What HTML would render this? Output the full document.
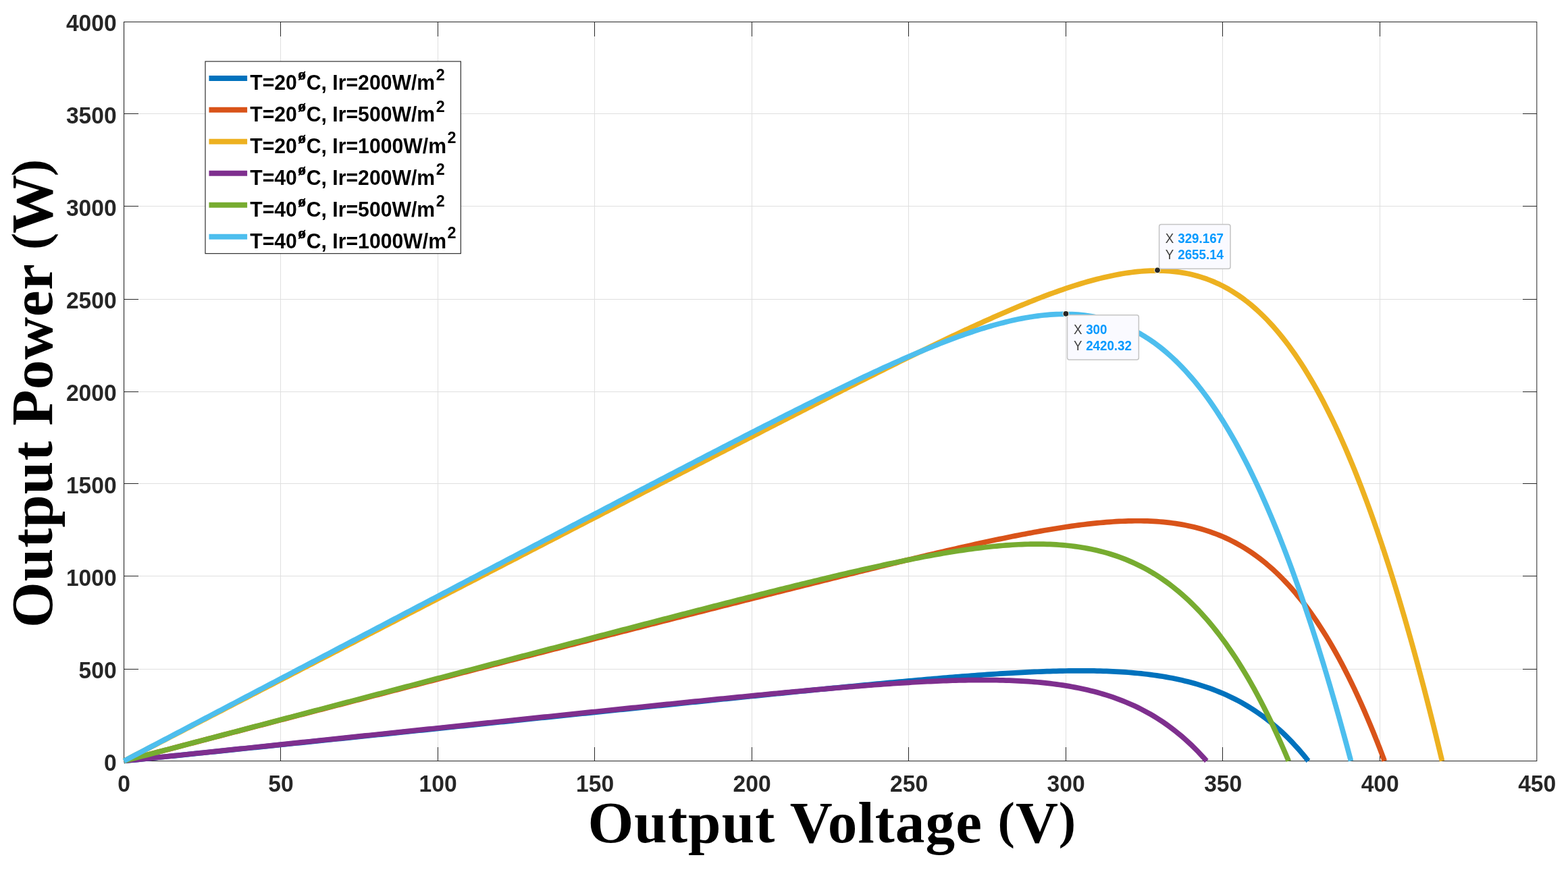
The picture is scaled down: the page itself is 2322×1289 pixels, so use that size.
<!DOCTYPE html>
<html lang="en"><head><meta charset="utf-8"><title>Output Power vs Output Voltage</title>
<style>html,body{margin:0;padding:0;background:#fff;}body{width:2322px;height:1289px;overflow:hidden;}svg{display:block;}text{white-space:pre;}.tk{font-family:"Liberation Sans",sans-serif;font-weight:bold;font-size:33.6px;fill:#262626;}.lg{font-family:"Liberation Sans",sans-serif;font-weight:bold;font-size:30.2px;fill:#000;}.so{font-family:"Liberation Serif",serif;font-weight:bold;font-style:normal;font-size:23.4px;stroke:#000;stroke-width:0.7px;stroke-linejoin:round;}.s2{font-size:23.4px;}.ax{font-family:"Liberation Serif",serif;font-weight:bold;font-size:87.2px;fill:#000;}.pr{font-size:76.0px;}.dt{font-family:"Liberation Sans",sans-serif;font-size:18.75px;fill:#404040;}.dv{font-weight:bold;fill:#0099FF;}</style></head><body>
<svg width="2322" height="1289" viewBox="0 0 2322 1289">
<rect x="0" y="0" width="2322" height="1289" fill="#ffffff"/>
<g stroke="#dfdfdf" stroke-width="1" shape-rendering="crispEdges">
<line x1="415.5" y1="32.5" x2="415.5" y2="1127.5"/>
<line x1="648.5" y1="32.5" x2="648.5" y2="1127.5"/>
<line x1="880.5" y1="32.5" x2="880.5" y2="1127.5"/>
<line x1="1113.5" y1="32.5" x2="1113.5" y2="1127.5"/>
<line x1="1345.5" y1="32.5" x2="1345.5" y2="1127.5"/>
<line x1="1578.5" y1="32.5" x2="1578.5" y2="1127.5"/>
<line x1="1810.5" y1="32.5" x2="1810.5" y2="1127.5"/>
<line x1="2043.5" y1="32.5" x2="2043.5" y2="1127.5"/>
<line x1="183.5" y1="991.5" x2="2275.5" y2="991.5"/>
<line x1="183.5" y1="853.5" x2="2275.5" y2="853.5"/>
<line x1="183.5" y1="716.5" x2="2275.5" y2="716.5"/>
<line x1="183.5" y1="580.5" x2="2275.5" y2="580.5"/>
<line x1="183.5" y1="443.5" x2="2275.5" y2="443.5"/>
<line x1="183.5" y1="305.5" x2="2275.5" y2="305.5"/>
<line x1="183.5" y1="168.5" x2="2275.5" y2="168.5"/>
</g>
<g stroke="#262626" stroke-width="1" fill="none" shape-rendering="crispEdges">
<line x1="184.5" y1="33" x2="184.5" y2="1127" stroke="#ededed"/>
<path d="M183.5 32.0 V1128.0 M183.0 32.5 H2276.0 M183.0 1127.5 H2276.0"/>
<line x1="2275.8" y1="32" x2="2275.8" y2="1128" shape-rendering="auto"/>
<line x1="415.5" y1="1127.5" x2="415.5" y2="1106.5"/>
<line x1="415.5" y1="32.5" x2="415.5" y2="53.5"/>
<line x1="648.5" y1="1127.5" x2="648.5" y2="1106.5"/>
<line x1="648.5" y1="32.5" x2="648.5" y2="53.5"/>
<line x1="880.5" y1="1127.5" x2="880.5" y2="1106.5"/>
<line x1="880.5" y1="32.5" x2="880.5" y2="53.5"/>
<line x1="1113.5" y1="1127.5" x2="1113.5" y2="1106.5"/>
<line x1="1113.5" y1="32.5" x2="1113.5" y2="53.5"/>
<line x1="1345.5" y1="1127.5" x2="1345.5" y2="1106.5"/>
<line x1="1345.5" y1="32.5" x2="1345.5" y2="53.5"/>
<line x1="1578.5" y1="1127.5" x2="1578.5" y2="1106.5"/>
<line x1="1578.5" y1="32.5" x2="1578.5" y2="53.5"/>
<line x1="1810.5" y1="1127.5" x2="1810.5" y2="1106.5"/>
<line x1="1810.5" y1="32.5" x2="1810.5" y2="53.5"/>
<line x1="2043.5" y1="1127.5" x2="2043.5" y2="1106.5"/>
<line x1="2043.5" y1="32.5" x2="2043.5" y2="53.5"/>
<line x1="183.5" y1="991.5" x2="204.5" y2="991.5"/>
<line x1="2275.5" y1="991.5" x2="2254.5" y2="991.5"/>
<line x1="183.5" y1="853.5" x2="204.5" y2="853.5"/>
<line x1="2275.5" y1="853.5" x2="2254.5" y2="853.5"/>
<line x1="183.5" y1="716.5" x2="204.5" y2="716.5"/>
<line x1="2275.5" y1="716.5" x2="2254.5" y2="716.5"/>
<line x1="183.5" y1="580.5" x2="204.5" y2="580.5"/>
<line x1="2275.5" y1="580.5" x2="2254.5" y2="580.5"/>
<line x1="183.5" y1="443.5" x2="204.5" y2="443.5"/>
<line x1="2275.5" y1="443.5" x2="2254.5" y2="443.5"/>
<line x1="183.5" y1="305.5" x2="204.5" y2="305.5"/>
<line x1="2275.5" y1="305.5" x2="2254.5" y2="305.5"/>
<line x1="183.5" y1="168.5" x2="204.5" y2="168.5"/>
<line x1="2275.5" y1="168.5" x2="2254.5" y2="168.5"/>
</g>
<g class="tk">
<text transform="translate(183.50 1173.30) scale(1 1.0700)" text-anchor="middle">0</text>
<text transform="translate(416.02 1173.30) scale(1 1.0700)" text-anchor="middle">50</text>
<text transform="translate(648.54 1173.30) scale(1 1.0700)" text-anchor="middle">100</text>
<text transform="translate(881.07 1173.30) scale(1 1.0700)" text-anchor="middle">150</text>
<text transform="translate(1113.59 1173.30) scale(1 1.0700)" text-anchor="middle">200</text>
<text transform="translate(1346.11 1173.30) scale(1 1.0700)" text-anchor="middle">250</text>
<text transform="translate(1578.63 1173.30) scale(1 1.0700)" text-anchor="middle">300</text>
<text transform="translate(1811.16 1173.30) scale(1 1.0700)" text-anchor="middle">350</text>
<text transform="translate(2043.68 1173.30) scale(1 1.0700)" text-anchor="middle">400</text>
<text transform="translate(2276.20 1173.30) scale(1 1.0700)" text-anchor="middle">450</text>
<text transform="translate(172.60 1142.00) scale(1 1.0700)" text-anchor="end">0</text>
<text transform="translate(172.60 1004.95) scale(1 1.0700)" text-anchor="end">500</text>
<text transform="translate(172.60 867.90) scale(1 1.0700)" text-anchor="end">1000</text>
<text transform="translate(172.60 730.85) scale(1 1.0700)" text-anchor="end">1500</text>
<text transform="translate(172.60 593.80) scale(1 1.0700)" text-anchor="end">2000</text>
<text transform="translate(172.60 456.75) scale(1 1.0700)" text-anchor="end">2500</text>
<text transform="translate(172.60 319.70) scale(1 1.0700)" text-anchor="end">3000</text>
<text transform="translate(172.60 182.65) scale(1 1.0700)" text-anchor="end">3500</text>
<text transform="translate(172.60 45.60) scale(1 1.0700)" text-anchor="end">4000</text>
</g>
<text class="ax" transform="translate(874.80 1248.00)"><tspan x="-4.36" y="0.00" letter-spacing="1.097">Output</tspan><tspan> </tspan><tspan x="295.03" y="0.00" letter-spacing="1.053">Voltage</tspan><tspan> </tspan><tspan x="602.74" y="-7.20" class="pr">(</tspan><tspan x="629.31" y="0.00">V</tspan><tspan x="692.89" y="-7.20" class="pr">)</tspan></text>
<text class="ax" transform="translate(77.00 925.60) rotate(-90)"><tspan x="-4.36" y="0.00" letter-spacing="0.957">Output</tspan><tspan> </tspan><tspan x="294.87" y="0.00" letter-spacing="0.597">Power</tspan><tspan> </tspan><tspan x="555.59" y="-7.20" class="pr">(</tspan><tspan x="579.55" y="0.00">W</tspan><tspan x="664.34" y="-7.20" class="pr">)</tspan></text>
<rect x="304.00" y="91.00" width="378.35" height="284.65" fill="#ffffff" stroke="#262626" stroke-width="1.15"/>
<line x1="309.50" y1="115.90" x2="366.10" y2="115.90" stroke="#0072BD" stroke-width="8.00"/>
<text class="lg" transform="translate(370.20 133.00) scale(1 1.0250)"><tspan x="0" y="0">T=20</tspan><tspan class="so" x="71.00" y="-14.34">ø</tspan><tspan x="83.60" y="0">C, Ir=200W/m</tspan><tspan class="s2" x="275.61" y="-14.05">2</tspan></text>
<line x1="309.50" y1="162.85" x2="366.10" y2="162.85" stroke="#D95319" stroke-width="8.00"/>
<text class="lg" transform="translate(370.20 179.90) scale(1 1.0250)"><tspan x="0" y="0">T=20</tspan><tspan class="so" x="71.00" y="-14.34">ø</tspan><tspan x="83.60" y="0">C, Ir=500W/m</tspan><tspan class="s2" x="275.61" y="-14.05">2</tspan></text>
<line x1="309.50" y1="209.80" x2="366.10" y2="209.80" stroke="#EDB120" stroke-width="8.00"/>
<text class="lg" transform="translate(370.20 226.80) scale(1 1.0250)"><tspan x="0" y="0">T=20</tspan><tspan class="so" x="71.00" y="-14.34">ø</tspan><tspan x="83.60" y="0">C, Ir=1000W/m</tspan><tspan class="s2" x="292.41" y="-14.05">2</tspan></text>
<line x1="309.50" y1="256.75" x2="366.10" y2="256.75" stroke="#7E2F8E" stroke-width="8.00"/>
<text class="lg" transform="translate(370.20 273.70) scale(1 1.0250)"><tspan x="0" y="0">T=40</tspan><tspan class="so" x="71.00" y="-14.34">ø</tspan><tspan x="83.60" y="0">C, Ir=200W/m</tspan><tspan class="s2" x="275.61" y="-14.05">2</tspan></text>
<line x1="309.50" y1="303.70" x2="366.10" y2="303.70" stroke="#77AC30" stroke-width="8.00"/>
<text class="lg" transform="translate(370.20 320.60) scale(1 1.0250)"><tspan x="0" y="0">T=40</tspan><tspan class="so" x="71.00" y="-14.34">ø</tspan><tspan x="83.60" y="0">C, Ir=500W/m</tspan><tspan class="s2" x="275.61" y="-14.05">2</tspan></text>
<line x1="309.50" y1="350.65" x2="366.10" y2="350.65" stroke="#4DBEEE" stroke-width="8.00"/>
<text class="lg" transform="translate(370.20 367.50) scale(1 1.0250)"><tspan x="0" y="0">T=40</tspan><tspan class="so" x="71.00" y="-14.34">ø</tspan><tspan x="83.60" y="0">C, Ir=1000W/m</tspan><tspan class="s2" x="292.41" y="-14.05">2</tspan></text>
<g fill="none" stroke-width="7.70" stroke-linejoin="round" stroke-linecap="butt">
<path d="M183.50 1127.50 L188.15 1127.02 L192.80 1126.54 L197.45 1126.06 L202.10 1125.58 L206.74 1125.09 L211.39 1124.61 L216.04 1124.13 L220.69 1123.65 L225.34 1123.17 L229.99 1122.69 L234.64 1122.21 L239.29 1121.73 L243.94 1121.25 L248.58 1120.76 L253.23 1120.28 L257.88 1119.80 L262.53 1119.32 L267.18 1118.84 L271.83 1118.36 L276.48 1117.88 L281.13 1117.40 L285.78 1116.92 L290.42 1116.44 L295.07 1115.95 L299.72 1115.47 L304.37 1114.99 L309.02 1114.51 L313.67 1114.03 L318.32 1113.55 L322.97 1113.07 L327.62 1112.59 L332.26 1112.11 L336.91 1111.62 L341.56 1111.14 L346.21 1110.66 L350.86 1110.18 L355.51 1109.70 L360.16 1109.22 L364.81 1108.74 L369.46 1108.26 L374.10 1107.78 L378.75 1107.30 L383.40 1106.81 L388.05 1106.33 L392.70 1105.85 L397.35 1105.37 L402.00 1104.89 L406.65 1104.41 L411.30 1103.93 L415.94 1103.45 L420.59 1102.97 L425.24 1102.48 L429.89 1102.00 L434.54 1101.52 L439.19 1101.04 L443.84 1100.56 L448.49 1100.08 L453.14 1099.60 L457.78 1099.12 L462.43 1098.64 L467.08 1098.16 L471.73 1097.67 L476.38 1097.19 L481.03 1096.71 L485.68 1096.23 L490.33 1095.75 L494.98 1095.27 L499.62 1094.79 L504.27 1094.31 L508.92 1093.83 L513.57 1093.34 L518.22 1092.86 L522.87 1092.38 L527.52 1091.90 L532.17 1091.42 L536.82 1090.94 L541.46 1090.46 L546.11 1089.98 L550.76 1089.50 L555.41 1089.02 L560.06 1088.53 L564.71 1088.05 L569.36 1087.57 L574.01 1087.09 L578.66 1086.61 L583.30 1086.13 L587.95 1085.65 L592.60 1085.17 L597.25 1084.69 L601.90 1084.21 L606.55 1083.72 L611.20 1083.24 L615.85 1082.76 L620.50 1082.28 L625.14 1081.80 L629.79 1081.32 L634.44 1080.84 L639.09 1080.36 L643.74 1079.88 L648.39 1079.40 L653.04 1078.92 L657.69 1078.43 L662.34 1077.95 L666.98 1077.47 L671.63 1076.99 L676.28 1076.51 L680.93 1076.03 L685.58 1075.55 L690.23 1075.07 L694.88 1074.59 L699.53 1074.11 L704.18 1073.63 L708.82 1073.15 L713.47 1072.66 L718.12 1072.18 L722.77 1071.70 L727.42 1071.22 L732.07 1070.74 L736.72 1070.26 L741.37 1069.78 L746.02 1069.30 L750.66 1068.82 L755.31 1068.34 L759.96 1067.86 L764.61 1067.38 L769.26 1066.90 L773.91 1066.42 L778.56 1065.94 L783.21 1065.46 L787.86 1064.97 L792.50 1064.49 L797.15 1064.01 L801.80 1063.53 L806.45 1063.05 L811.10 1062.57 L815.75 1062.09 L820.40 1061.61 L825.05 1061.13 L829.70 1060.65 L834.34 1060.17 L838.99 1059.69 L843.64 1059.21 L848.29 1058.73 L852.94 1058.25 L857.59 1057.77 L862.24 1057.29 L866.89 1056.81 L871.54 1056.33 L876.18 1055.85 L880.83 1055.37 L885.48 1054.89 L890.13 1054.41 L894.78 1053.93 L899.43 1053.45 L904.08 1052.97 L908.73 1052.49 L913.38 1052.02 L918.02 1051.54 L922.67 1051.06 L927.32 1050.58 L931.97 1050.10 L936.62 1049.62 L941.27 1049.14 L945.92 1048.66 L950.57 1048.18 L955.22 1047.70 L959.86 1047.23 L964.51 1046.75 L969.16 1046.27 L973.81 1045.79 L978.46 1045.31 L983.11 1044.84 L987.76 1044.36 L992.41 1043.88 L997.06 1043.40 L1001.70 1042.92 L1006.35 1042.45 L1011.00 1041.97 L1015.65 1041.49 L1020.30 1041.02 L1024.95 1040.54 L1029.60 1040.06 L1034.25 1039.59 L1038.90 1039.11 L1043.54 1038.64 L1048.19 1038.16 L1052.84 1037.68 L1057.49 1037.21 L1062.14 1036.73 L1066.79 1036.26 L1071.44 1035.78 L1076.09 1035.31 L1080.74 1034.84 L1085.38 1034.36 L1090.03 1033.89 L1094.68 1033.42 L1099.33 1032.94 L1103.98 1032.47 L1108.63 1032.00 L1113.28 1031.53 L1117.93 1031.05 L1122.58 1030.58 L1127.22 1030.11 L1131.87 1029.64 L1136.52 1029.17 L1141.17 1028.70 L1145.82 1028.23 L1150.47 1027.77 L1155.12 1027.30 L1159.77 1026.83 L1164.42 1026.36 L1169.06 1025.90 L1173.71 1025.43 L1178.36 1024.97 L1183.01 1024.50 L1187.66 1024.04 L1192.31 1023.57 L1196.96 1023.11 L1201.61 1022.65 L1206.26 1022.19 L1210.90 1021.73 L1215.55 1021.27 L1220.20 1020.81 L1224.85 1020.35 L1229.50 1019.89 L1234.15 1019.44 L1238.80 1018.98 L1243.45 1018.53 L1248.10 1018.07 L1252.74 1017.62 L1257.39 1017.17 L1262.04 1016.72 L1266.69 1016.27 L1271.34 1015.83 L1275.99 1015.38 L1280.64 1014.93 L1285.29 1014.49 L1289.94 1014.05 L1294.58 1013.61 L1299.23 1013.17 L1303.88 1012.73 L1308.53 1012.30 L1313.18 1011.86 L1317.83 1011.43 L1322.48 1011.00 L1327.13 1010.57 L1331.78 1010.15 L1336.42 1009.72 L1341.07 1009.30 L1345.72 1008.88 L1350.37 1008.46 L1355.02 1008.05 L1359.67 1007.64 L1364.32 1007.23 L1368.97 1006.82 L1373.62 1006.42 L1378.26 1006.02 L1382.91 1005.62 L1387.56 1005.22 L1392.21 1004.83 L1396.86 1004.44 L1401.51 1004.06 L1406.16 1003.68 L1410.81 1003.30 L1415.46 1002.93 L1420.10 1002.56 L1424.75 1002.19 L1429.40 1001.83 L1434.05 1001.48 L1438.70 1001.13 L1443.35 1000.78 L1448.00 1000.44 L1452.65 1000.10 L1457.30 999.77 L1461.94 999.45 L1466.59 999.13 L1471.24 998.82 L1475.89 998.51 L1480.54 998.21 L1485.19 997.92 L1489.84 997.64 L1494.49 997.36 L1499.14 997.09 L1503.78 996.83 L1508.43 996.57 L1513.08 996.33 L1517.73 996.09 L1522.38 995.86 L1527.03 995.64 L1531.68 995.44 L1536.33 995.24 L1540.98 995.05 L1545.62 994.88 L1550.27 994.71 L1554.92 994.56 L1559.57 994.42 L1564.22 994.29 L1568.87 994.18 L1573.52 994.08 L1578.17 993.99 L1582.82 993.92 L1587.46 993.87 L1592.11 993.83 L1596.76 993.80 L1601.41 993.80 L1606.06 993.81 L1610.71 993.84 L1615.36 993.89 L1620.01 993.96 L1624.66 994.05 L1629.30 994.16 L1633.95 994.29 L1638.60 994.45 L1643.25 994.63 L1647.90 994.84 L1652.55 995.07 L1657.20 995.32 L1661.85 995.61 L1666.50 995.92 L1671.14 996.26 L1675.79 996.63 L1680.44 997.04 L1685.09 997.48 L1689.74 997.95 L1694.39 998.46 L1699.04 999.00 L1703.69 999.58 L1708.34 1000.20 L1712.98 1000.86 L1717.63 1001.57 L1722.28 1002.31 L1726.93 1003.11 L1731.58 1003.95 L1736.23 1004.83 L1740.88 1005.77 L1745.53 1006.76 L1750.18 1007.81 L1754.82 1008.91 L1759.47 1010.07 L1764.12 1011.29 L1768.77 1012.57 L1773.42 1013.92 L1778.07 1015.33 L1782.72 1016.81 L1787.37 1018.36 L1792.02 1019.99 L1796.66 1021.70 L1801.31 1023.48 L1805.96 1025.35 L1810.61 1027.30 L1815.26 1029.34 L1819.91 1031.47 L1824.56 1033.70 L1829.21 1036.02 L1833.86 1038.45 L1838.50 1040.98 L1843.15 1043.61 L1847.80 1046.36 L1852.45 1049.23 L1857.10 1052.22 L1861.75 1055.33 L1866.40 1058.56 L1871.05 1061.94 L1875.70 1065.44 L1880.34 1069.09 L1884.99 1072.89 L1889.64 1076.84 L1894.29 1080.95 L1898.94 1085.21 L1903.59 1089.65 L1908.24 1094.26 L1912.89 1099.04 L1917.54 1104.01 L1922.18 1109.17 L1926.83 1114.53 L1931.48 1120.09 L1936.13 1125.87 L1937.42 1127.50" stroke="#0072BD"/>
<path d="M183.50 1127.50 L188.15 1126.28 L192.80 1125.06 L197.45 1123.84 L202.10 1122.62 L206.74 1121.40 L211.39 1120.17 L216.04 1118.95 L220.69 1117.73 L225.34 1116.51 L229.99 1115.29 L234.64 1114.07 L239.29 1112.86 L243.94 1111.64 L248.58 1110.42 L253.23 1109.20 L257.88 1107.98 L262.53 1106.76 L267.18 1105.54 L271.83 1104.33 L276.48 1103.11 L281.13 1101.89 L285.78 1100.67 L290.42 1099.45 L295.07 1098.24 L299.72 1097.02 L304.37 1095.80 L309.02 1094.59 L313.67 1093.37 L318.32 1092.15 L322.97 1090.94 L327.62 1089.72 L332.26 1088.51 L336.91 1087.29 L341.56 1086.08 L346.21 1084.86 L350.86 1083.65 L355.51 1082.43 L360.16 1081.22 L364.81 1080.00 L369.46 1078.79 L374.10 1077.57 L378.75 1076.36 L383.40 1075.14 L388.05 1073.93 L392.70 1072.72 L397.35 1071.50 L402.00 1070.29 L406.65 1069.08 L411.30 1067.87 L415.94 1066.65 L420.59 1065.44 L425.24 1064.23 L429.89 1063.02 L434.54 1061.81 L439.19 1060.59 L443.84 1059.38 L448.49 1058.17 L453.14 1056.96 L457.78 1055.75 L462.43 1054.54 L467.08 1053.33 L471.73 1052.12 L476.38 1050.91 L481.03 1049.70 L485.68 1048.49 L490.33 1047.28 L494.98 1046.07 L499.62 1044.86 L504.27 1043.65 L508.92 1042.44 L513.57 1041.23 L518.22 1040.03 L522.87 1038.82 L527.52 1037.61 L532.17 1036.40 L536.82 1035.19 L541.46 1033.99 L546.11 1032.78 L550.76 1031.57 L555.41 1030.36 L560.06 1029.16 L564.71 1027.95 L569.36 1026.74 L574.01 1025.54 L578.66 1024.33 L583.30 1023.13 L587.95 1021.92 L592.60 1020.71 L597.25 1019.51 L601.90 1018.30 L606.55 1017.10 L611.20 1015.89 L615.85 1014.69 L620.50 1013.48 L625.14 1012.28 L629.79 1011.08 L634.44 1009.87 L639.09 1008.67 L643.74 1007.46 L648.39 1006.26 L653.04 1005.06 L657.69 1003.86 L662.34 1002.65 L666.98 1001.45 L671.63 1000.25 L676.28 999.05 L680.93 997.84 L685.58 996.64 L690.23 995.44 L694.88 994.24 L699.53 993.04 L704.18 991.84 L708.82 990.63 L713.47 989.43 L718.12 988.23 L722.77 987.03 L727.42 985.83 L732.07 984.63 L736.72 983.43 L741.37 982.23 L746.02 981.03 L750.66 979.83 L755.31 978.64 L759.96 977.44 L764.61 976.24 L769.26 975.04 L773.91 973.84 L778.56 972.64 L783.21 971.45 L787.86 970.25 L792.50 969.05 L797.15 967.85 L801.80 966.66 L806.45 965.46 L811.10 964.26 L815.75 963.07 L820.40 961.87 L825.05 960.67 L829.70 959.48 L834.34 958.28 L838.99 957.09 L843.64 955.89 L848.29 954.70 L852.94 953.50 L857.59 952.31 L862.24 951.11 L866.89 949.92 L871.54 948.72 L876.18 947.53 L880.83 946.34 L885.48 945.14 L890.13 943.95 L894.78 942.76 L899.43 941.57 L904.08 940.37 L908.73 939.18 L913.38 937.99 L918.02 936.80 L922.67 935.61 L927.32 934.41 L931.97 933.22 L936.62 932.03 L941.27 930.84 L945.92 929.65 L950.57 928.46 L955.22 927.27 L959.86 926.08 L964.51 924.89 L969.16 923.70 L973.81 922.51 L978.46 921.33 L983.11 920.14 L987.76 918.95 L992.41 917.76 L997.06 916.57 L1001.70 915.39 L1006.35 914.20 L1011.00 913.01 L1015.65 911.83 L1020.30 910.64 L1024.95 909.46 L1029.60 908.27 L1034.25 907.09 L1038.90 905.90 L1043.54 904.72 L1048.19 903.53 L1052.84 902.35 L1057.49 901.17 L1062.14 899.98 L1066.79 898.80 L1071.44 897.62 L1076.09 896.44 L1080.74 895.26 L1085.38 894.08 L1090.03 892.90 L1094.68 891.72 L1099.33 890.54 L1103.98 889.36 L1108.63 888.18 L1113.28 887.00 L1117.93 885.82 L1122.58 884.65 L1127.22 883.47 L1131.87 882.29 L1136.52 881.12 L1141.17 879.94 L1145.82 878.77 L1150.47 877.60 L1155.12 876.42 L1159.77 875.25 L1164.42 874.08 L1169.06 872.91 L1173.71 871.74 L1178.36 870.57 L1183.01 869.40 L1187.66 868.23 L1192.31 867.06 L1196.96 865.90 L1201.61 864.73 L1206.26 863.57 L1210.90 862.40 L1215.55 861.24 L1220.20 860.08 L1224.85 858.92 L1229.50 857.76 L1234.15 856.60 L1238.80 855.44 L1243.45 854.28 L1248.10 853.13 L1252.74 851.97 L1257.39 850.82 L1262.04 849.67 L1266.69 848.52 L1271.34 847.37 L1275.99 846.22 L1280.64 845.08 L1285.29 843.93 L1289.94 842.79 L1294.58 841.65 L1299.23 840.51 L1303.88 839.38 L1308.53 838.24 L1313.18 837.11 L1317.83 835.98 L1322.48 834.85 L1327.13 833.72 L1331.78 832.60 L1336.42 831.47 L1341.07 830.36 L1345.72 829.24 L1350.37 828.12 L1355.02 827.01 L1359.67 825.91 L1364.32 824.80 L1368.97 823.70 L1373.62 822.60 L1378.26 821.50 L1382.91 820.41 L1387.56 819.32 L1392.21 818.24 L1396.86 817.16 L1401.51 816.08 L1406.16 815.01 L1410.81 813.95 L1415.46 812.88 L1420.10 811.83 L1424.75 810.77 L1429.40 809.73 L1434.05 808.68 L1438.70 807.65 L1443.35 806.62 L1448.00 805.59 L1452.65 804.58 L1457.30 803.56 L1461.94 802.56 L1466.59 801.56 L1471.24 800.57 L1475.89 799.59 L1480.54 798.62 L1485.19 797.65 L1489.84 796.70 L1494.49 795.75 L1499.14 794.81 L1503.78 793.89 L1508.43 792.97 L1513.08 792.06 L1517.73 791.17 L1522.38 790.28 L1527.03 789.41 L1531.68 788.55 L1536.33 787.70 L1540.98 786.87 L1545.62 786.05 L1550.27 785.25 L1554.92 784.46 L1559.57 783.69 L1564.22 782.93 L1568.87 782.19 L1573.52 781.47 L1578.17 780.76 L1582.82 780.08 L1587.46 779.41 L1592.11 778.77 L1596.76 778.15 L1601.41 777.55 L1606.06 776.97 L1610.71 776.42 L1615.36 775.89 L1620.01 775.39 L1624.66 774.92 L1629.30 774.47 L1633.95 774.05 L1638.60 773.67 L1643.25 773.31 L1647.90 772.99 L1652.55 772.70 L1657.20 772.44 L1661.85 772.23 L1666.50 772.05 L1671.14 771.91 L1675.79 771.81 L1680.44 771.75 L1685.09 771.73 L1689.74 771.77 L1694.39 771.84 L1699.04 771.97 L1703.69 772.15 L1708.34 772.38 L1712.98 772.66 L1717.63 773.00 L1722.28 773.40 L1726.93 773.86 L1731.58 774.38 L1736.23 774.96 L1740.88 775.62 L1745.53 776.34 L1750.18 777.13 L1754.82 777.99 L1759.47 778.93 L1764.12 779.95 L1768.77 781.05 L1773.42 782.24 L1778.07 783.51 L1782.72 784.87 L1787.37 786.32 L1792.02 787.87 L1796.66 789.51 L1801.31 791.26 L1805.96 793.11 L1810.61 795.06 L1815.26 797.13 L1819.91 799.31 L1824.56 801.61 L1829.21 804.03 L1833.86 806.57 L1838.50 809.24 L1843.15 812.04 L1847.80 814.97 L1852.45 818.04 L1857.10 821.25 L1861.75 824.61 L1866.40 828.12 L1871.05 831.78 L1875.70 835.59 L1880.34 839.57 L1884.99 843.71 L1889.64 848.01 L1894.29 852.49 L1898.94 857.14 L1903.59 861.98 L1908.24 866.99 L1912.89 872.19 L1917.54 877.59 L1922.18 883.17 L1926.83 888.96 L1931.48 894.95 L1936.13 901.14 L1940.78 907.54 L1945.43 914.16 L1950.08 921.00 L1954.73 928.05 L1959.38 935.33 L1964.02 942.84 L1968.67 950.58 L1973.32 958.55 L1977.97 966.76 L1982.62 975.21 L1987.27 983.91 L1991.92 992.85 L1996.57 1002.05 L2001.22 1011.50 L2005.86 1021.21 L2010.51 1031.17 L2015.16 1041.40 L2019.81 1051.90 L2024.46 1062.66 L2029.11 1073.69 L2033.76 1085.00 L2038.41 1096.58 L2043.06 1108.43 L2047.70 1120.57 L2050.31 1127.50" stroke="#D95319"/>
<path d="M183.50 1127.50 L188.15 1125.10 L192.80 1122.69 L197.45 1120.29 L202.10 1117.88 L206.74 1115.48 L211.39 1113.07 L216.04 1110.67 L220.69 1108.26 L225.34 1105.86 L229.99 1103.46 L234.64 1101.05 L239.29 1098.65 L243.94 1096.24 L248.58 1093.84 L253.23 1091.43 L257.88 1089.03 L262.53 1086.62 L267.18 1084.22 L271.83 1081.82 L276.48 1079.41 L281.13 1077.01 L285.78 1074.60 L290.42 1072.20 L295.07 1069.79 L299.72 1067.39 L304.37 1064.98 L309.02 1062.58 L313.67 1060.18 L318.32 1057.77 L322.97 1055.37 L327.62 1052.96 L332.26 1050.56 L336.91 1048.15 L341.56 1045.75 L346.21 1043.34 L350.86 1040.94 L355.51 1038.54 L360.16 1036.13 L364.81 1033.73 L369.46 1031.32 L374.10 1028.92 L378.75 1026.51 L383.40 1024.11 L388.05 1021.70 L392.70 1019.30 L397.35 1016.90 L402.00 1014.49 L406.65 1012.09 L411.30 1009.68 L415.94 1007.28 L420.59 1004.87 L425.24 1002.47 L429.89 1000.06 L434.54 997.66 L439.19 995.26 L443.84 992.85 L448.49 990.45 L453.14 988.04 L457.78 985.64 L462.43 983.23 L467.08 980.83 L471.73 978.42 L476.38 976.02 L481.03 973.62 L485.68 971.21 L490.33 968.81 L494.98 966.40 L499.62 964.00 L504.27 961.59 L508.92 959.19 L513.57 956.78 L518.22 954.38 L522.87 951.98 L527.52 949.57 L532.17 947.17 L536.82 944.76 L541.46 942.36 L546.11 939.95 L550.76 937.55 L555.41 935.15 L560.06 932.74 L564.71 930.34 L569.36 927.93 L574.01 925.53 L578.66 923.12 L583.30 920.72 L587.95 918.31 L592.60 915.91 L597.25 913.51 L601.90 911.10 L606.55 908.70 L611.20 906.29 L615.85 903.89 L620.50 901.48 L625.14 899.08 L629.79 896.68 L634.44 894.27 L639.09 891.87 L643.74 889.46 L648.39 887.06 L653.04 884.65 L657.69 882.25 L662.34 879.85 L666.98 877.44 L671.63 875.04 L676.28 872.63 L680.93 870.23 L685.58 867.83 L690.23 865.42 L694.88 863.02 L699.53 860.61 L704.18 858.21 L708.82 855.81 L713.47 853.40 L718.12 851.00 L722.77 848.59 L727.42 846.19 L732.07 843.78 L736.72 841.38 L741.37 838.98 L746.02 836.57 L750.66 834.17 L755.31 831.77 L759.96 829.36 L764.61 826.96 L769.26 824.55 L773.91 822.15 L778.56 819.75 L783.21 817.34 L787.86 814.94 L792.50 812.54 L797.15 810.13 L801.80 807.73 L806.45 805.33 L811.10 802.92 L815.75 800.52 L820.40 798.11 L825.05 795.71 L829.70 793.31 L834.34 790.90 L838.99 788.50 L843.64 786.10 L848.29 783.70 L852.94 781.29 L857.59 778.89 L862.24 776.49 L866.89 774.08 L871.54 771.68 L876.18 769.28 L880.83 766.88 L885.48 764.47 L890.13 762.07 L894.78 759.67 L899.43 757.27 L904.08 754.86 L908.73 752.46 L913.38 750.06 L918.02 747.66 L922.67 745.26 L927.32 742.86 L931.97 740.45 L936.62 738.05 L941.27 735.65 L945.92 733.25 L950.57 730.85 L955.22 728.45 L959.86 726.05 L964.51 723.65 L969.16 721.25 L973.81 718.85 L978.46 716.45 L983.11 714.05 L987.76 711.65 L992.41 709.25 L997.06 706.85 L1001.70 704.45 L1006.35 702.05 L1011.00 699.66 L1015.65 697.26 L1020.30 694.86 L1024.95 692.46 L1029.60 690.06 L1034.25 687.67 L1038.90 685.27 L1043.54 682.88 L1048.19 680.48 L1052.84 678.08 L1057.49 675.69 L1062.14 673.29 L1066.79 670.90 L1071.44 668.51 L1076.09 666.11 L1080.74 663.72 L1085.38 661.33 L1090.03 658.93 L1094.68 656.54 L1099.33 654.15 L1103.98 651.76 L1108.63 649.37 L1113.28 646.98 L1117.93 644.59 L1122.58 642.21 L1127.22 639.82 L1131.87 637.43 L1136.52 635.05 L1141.17 632.66 L1145.82 630.28 L1150.47 627.89 L1155.12 625.51 L1159.77 623.13 L1164.42 620.75 L1169.06 618.37 L1173.71 615.99 L1178.36 613.61 L1183.01 611.24 L1187.66 608.86 L1192.31 606.49 L1196.96 604.12 L1201.61 601.74 L1206.26 599.37 L1210.90 597.01 L1215.55 594.64 L1220.20 592.27 L1224.85 589.91 L1229.50 587.55 L1234.15 585.19 L1238.80 582.83 L1243.45 580.47 L1248.10 578.12 L1252.74 575.76 L1257.39 573.41 L1262.04 571.06 L1266.69 568.72 L1271.34 566.37 L1275.99 564.03 L1280.64 561.69 L1285.29 559.36 L1289.94 557.03 L1294.58 554.70 L1299.23 552.37 L1303.88 550.04 L1308.53 547.72 L1313.18 545.41 L1317.83 543.09 L1322.48 540.78 L1327.13 538.48 L1331.78 536.17 L1336.42 533.88 L1341.07 531.58 L1345.72 529.29 L1350.37 527.01 L1355.02 524.73 L1359.67 522.46 L1364.32 520.19 L1368.97 517.92 L1373.62 515.67 L1378.26 513.41 L1382.91 511.17 L1387.56 508.93 L1392.21 506.70 L1396.86 504.47 L1401.51 502.25 L1406.16 500.04 L1410.81 497.84 L1415.46 495.64 L1420.10 493.46 L1424.75 491.28 L1429.40 489.11 L1434.05 486.95 L1438.70 484.80 L1443.35 482.66 L1448.00 480.53 L1452.65 478.42 L1457.30 476.31 L1461.94 474.22 L1466.59 472.14 L1471.24 470.07 L1475.89 468.01 L1480.54 465.97 L1485.19 463.95 L1489.84 461.93 L1494.49 459.94 L1499.14 457.96 L1503.78 455.99 L1508.43 454.05 L1513.08 452.12 L1517.73 450.21 L1522.38 448.32 L1527.03 446.46 L1531.68 444.61 L1536.33 442.78 L1540.98 440.98 L1545.62 439.20 L1550.27 437.44 L1554.92 435.72 L1559.57 434.01 L1564.22 432.34 L1568.87 430.69 L1573.52 429.07 L1578.17 427.48 L1582.82 425.92 L1587.46 424.40 L1592.11 422.91 L1596.76 421.46 L1601.41 420.04 L1606.06 418.66 L1610.71 417.31 L1615.36 416.01 L1620.01 414.75 L1624.66 413.54 L1629.30 412.37 L1633.95 411.24 L1638.60 410.16 L1643.25 409.14 L1647.90 408.16 L1652.55 407.24 L1657.20 406.37 L1661.85 405.56 L1666.50 404.81 L1671.14 404.12 L1675.79 403.49 L1680.44 402.93 L1685.09 402.43 L1689.74 402.01 L1694.39 401.65 L1699.04 401.37 L1703.69 401.16 L1708.34 401.04 L1712.98 400.99 L1717.63 401.03 L1722.28 401.15 L1726.93 401.37 L1731.58 401.67 L1736.23 402.07 L1740.88 402.56 L1745.53 403.16 L1750.18 403.85 L1754.82 404.66 L1759.47 405.57 L1764.12 406.59 L1768.77 407.73 L1773.42 408.98 L1778.07 410.36 L1782.72 411.86 L1787.37 413.49 L1792.02 415.25 L1796.66 417.14 L1801.31 419.17 L1805.96 421.34 L1810.61 423.65 L1815.26 426.12 L1819.91 428.73 L1824.56 431.50 L1829.21 434.43 L1833.86 437.51 L1838.50 440.77 L1843.15 444.19 L1847.80 447.78 L1852.45 451.55 L1857.10 455.50 L1861.75 459.64 L1866.40 463.95 L1871.05 468.46 L1875.70 473.16 L1880.34 478.06 L1884.99 483.16 L1889.64 488.47 L1894.29 493.98 L1898.94 499.70 L1903.59 505.63 L1908.24 511.79 L1912.89 518.16 L1917.54 524.75 L1922.18 531.58 L1926.83 538.63 L1931.48 545.91 L1936.13 553.43 L1940.78 561.19 L1945.43 569.19 L1950.08 577.44 L1954.73 585.93 L1959.38 594.67 L1964.02 603.66 L1968.67 612.91 L1973.32 622.42 L1977.97 632.18 L1982.62 642.21 L1987.27 652.49 L1991.92 663.05 L1996.57 673.87 L2001.22 684.96 L2005.86 696.32 L2010.51 707.96 L2015.16 719.87 L2019.81 732.06 L2024.46 744.52 L2029.11 757.26 L2033.76 770.29 L2038.41 783.59 L2043.06 797.18 L2047.70 811.05 L2052.35 825.21 L2057.00 839.65 L2061.65 854.38 L2066.30 869.39 L2070.95 884.70 L2075.60 900.29 L2080.25 916.17 L2084.90 932.35 L2089.54 948.81 L2094.19 965.56 L2098.84 982.61 L2103.49 999.94 L2108.14 1017.57 L2112.79 1035.48 L2117.44 1053.69 L2122.09 1072.19 L2126.74 1090.99 L2131.38 1110.07 L2135.57 1127.50" stroke="#EDB120"/>
<path d="M183.50 1127.50 L188.15 1127.01 L192.80 1126.52 L197.45 1126.04 L202.10 1125.55 L206.74 1125.06 L211.39 1124.57 L216.04 1124.09 L220.69 1123.60 L225.34 1123.11 L229.99 1122.62 L234.64 1122.13 L239.29 1121.65 L243.94 1121.16 L248.58 1120.67 L253.23 1120.18 L257.88 1119.69 L262.53 1119.21 L267.18 1118.72 L271.83 1118.23 L276.48 1117.74 L281.13 1117.26 L285.78 1116.77 L290.42 1116.28 L295.07 1115.79 L299.72 1115.30 L304.37 1114.82 L309.02 1114.33 L313.67 1113.84 L318.32 1113.35 L322.97 1112.87 L327.62 1112.38 L332.26 1111.89 L336.91 1111.40 L341.56 1110.91 L346.21 1110.43 L350.86 1109.94 L355.51 1109.45 L360.16 1108.96 L364.81 1108.48 L369.46 1107.99 L374.10 1107.50 L378.75 1107.01 L383.40 1106.52 L388.05 1106.04 L392.70 1105.55 L397.35 1105.06 L402.00 1104.57 L406.65 1104.09 L411.30 1103.60 L415.94 1103.11 L420.59 1102.62 L425.24 1102.13 L429.89 1101.65 L434.54 1101.16 L439.19 1100.67 L443.84 1100.18 L448.49 1099.70 L453.14 1099.21 L457.78 1098.72 L462.43 1098.23 L467.08 1097.74 L471.73 1097.26 L476.38 1096.77 L481.03 1096.28 L485.68 1095.79 L490.33 1095.31 L494.98 1094.82 L499.62 1094.33 L504.27 1093.84 L508.92 1093.36 L513.57 1092.87 L518.22 1092.38 L522.87 1091.89 L527.52 1091.41 L532.17 1090.92 L536.82 1090.43 L541.46 1089.94 L546.11 1089.46 L550.76 1088.97 L555.41 1088.48 L560.06 1087.99 L564.71 1087.51 L569.36 1087.02 L574.01 1086.53 L578.66 1086.04 L583.30 1085.56 L587.95 1085.07 L592.60 1084.58 L597.25 1084.09 L601.90 1083.61 L606.55 1083.12 L611.20 1082.63 L615.85 1082.14 L620.50 1081.66 L625.14 1081.17 L629.79 1080.68 L634.44 1080.20 L639.09 1079.71 L643.74 1079.22 L648.39 1078.73 L653.04 1078.25 L657.69 1077.76 L662.34 1077.27 L666.98 1076.79 L671.63 1076.30 L676.28 1075.81 L680.93 1075.33 L685.58 1074.84 L690.23 1074.35 L694.88 1073.86 L699.53 1073.38 L704.18 1072.89 L708.82 1072.40 L713.47 1071.92 L718.12 1071.43 L722.77 1070.95 L727.42 1070.46 L732.07 1069.97 L736.72 1069.49 L741.37 1069.00 L746.02 1068.51 L750.66 1068.03 L755.31 1067.54 L759.96 1067.06 L764.61 1066.57 L769.26 1066.08 L773.91 1065.60 L778.56 1065.11 L783.21 1064.63 L787.86 1064.14 L792.50 1063.66 L797.15 1063.17 L801.80 1062.69 L806.45 1062.20 L811.10 1061.72 L815.75 1061.23 L820.40 1060.75 L825.05 1060.26 L829.70 1059.78 L834.34 1059.29 L838.99 1058.81 L843.64 1058.33 L848.29 1057.84 L852.94 1057.36 L857.59 1056.87 L862.24 1056.39 L866.89 1055.91 L871.54 1055.43 L876.18 1054.94 L880.83 1054.46 L885.48 1053.98 L890.13 1053.49 L894.78 1053.01 L899.43 1052.53 L904.08 1052.05 L908.73 1051.57 L913.38 1051.09 L918.02 1050.61 L922.67 1050.13 L927.32 1049.65 L931.97 1049.17 L936.62 1048.69 L941.27 1048.21 L945.92 1047.73 L950.57 1047.25 L955.22 1046.77 L959.86 1046.29 L964.51 1045.81 L969.16 1045.34 L973.81 1044.86 L978.46 1044.38 L983.11 1043.91 L987.76 1043.43 L992.41 1042.96 L997.06 1042.48 L1001.70 1042.01 L1006.35 1041.54 L1011.00 1041.06 L1015.65 1040.59 L1020.30 1040.12 L1024.95 1039.65 L1029.60 1039.18 L1034.25 1038.71 L1038.90 1038.24 L1043.54 1037.77 L1048.19 1037.30 L1052.84 1036.83 L1057.49 1036.37 L1062.14 1035.90 L1066.79 1035.44 L1071.44 1034.97 L1076.09 1034.51 L1080.74 1034.05 L1085.38 1033.59 L1090.03 1033.13 L1094.68 1032.67 L1099.33 1032.21 L1103.98 1031.75 L1108.63 1031.30 L1113.28 1030.84 L1117.93 1030.39 L1122.58 1029.94 L1127.22 1029.49 L1131.87 1029.04 L1136.52 1028.59 L1141.17 1028.15 L1145.82 1027.70 L1150.47 1027.26 L1155.12 1026.82 L1159.77 1026.38 L1164.42 1025.94 L1169.06 1025.50 L1173.71 1025.07 L1178.36 1024.64 L1183.01 1024.21 L1187.66 1023.78 L1192.31 1023.35 L1196.96 1022.93 L1201.61 1022.51 L1206.26 1022.09 L1210.90 1021.68 L1215.55 1021.26 L1220.20 1020.85 L1224.85 1020.45 L1229.50 1020.04 L1234.15 1019.64 L1238.80 1019.24 L1243.45 1018.85 L1248.10 1018.46 L1252.74 1018.07 L1257.39 1017.68 L1262.04 1017.30 L1266.69 1016.93 L1271.34 1016.55 L1275.99 1016.19 L1280.64 1015.82 L1285.29 1015.46 L1289.94 1015.11 L1294.58 1014.76 L1299.23 1014.42 L1303.88 1014.08 L1308.53 1013.74 L1313.18 1013.41 L1317.83 1013.09 L1322.48 1012.78 L1327.13 1012.47 L1331.78 1012.16 L1336.42 1011.87 L1341.07 1011.58 L1345.72 1011.30 L1350.37 1011.02 L1355.02 1010.75 L1359.67 1010.49 L1364.32 1010.24 L1368.97 1010.00 L1373.62 1009.77 L1378.26 1009.55 L1382.91 1009.33 L1387.56 1009.13 L1392.21 1008.93 L1396.86 1008.75 L1401.51 1008.58 L1406.16 1008.42 L1410.81 1008.27 L1415.46 1008.13 L1420.10 1008.01 L1424.75 1007.90 L1429.40 1007.80 L1434.05 1007.72 L1438.70 1007.65 L1443.35 1007.60 L1448.00 1007.57 L1452.65 1007.55 L1457.30 1007.54 L1461.94 1007.56 L1466.59 1007.59 L1471.24 1007.64 L1475.89 1007.71 L1480.54 1007.80 L1485.19 1007.91 L1489.84 1008.05 L1494.49 1008.20 L1499.14 1008.38 L1503.78 1008.59 L1508.43 1008.81 L1513.08 1009.07 L1517.73 1009.35 L1522.38 1009.66 L1527.03 1009.99 L1531.68 1010.36 L1536.33 1010.76 L1540.98 1011.19 L1545.62 1011.65 L1550.27 1012.14 L1554.92 1012.67 L1559.57 1013.24 L1564.22 1013.85 L1568.87 1014.49 L1573.52 1015.18 L1578.17 1015.90 L1582.82 1016.67 L1587.46 1017.49 L1592.11 1018.35 L1596.76 1019.26 L1601.41 1020.22 L1606.06 1021.23 L1610.71 1022.30 L1615.36 1023.42 L1620.01 1024.59 L1624.66 1025.83 L1629.30 1027.13 L1633.95 1028.49 L1638.60 1029.91 L1643.25 1031.41 L1647.90 1032.97 L1652.55 1034.61 L1657.20 1036.32 L1661.85 1038.11 L1666.50 1039.98 L1671.14 1041.94 L1675.79 1043.98 L1680.44 1046.10 L1685.09 1048.32 L1689.74 1050.64 L1694.39 1053.06 L1699.04 1055.57 L1703.69 1058.19 L1708.34 1060.92 L1712.98 1063.77 L1717.63 1066.73 L1722.28 1069.81 L1726.93 1073.01 L1731.58 1076.35 L1736.23 1079.81 L1740.88 1083.42 L1745.53 1087.16 L1750.18 1091.06 L1754.82 1095.10 L1759.47 1099.30 L1764.12 1103.67 L1768.77 1108.20 L1773.42 1112.91 L1778.07 1117.79 L1782.72 1122.86 L1786.83 1127.50" stroke="#7E2F8E"/>
<path d="M183.50 1127.50 L188.15 1126.28 L192.80 1125.05 L197.45 1123.83 L202.10 1122.60 L206.74 1121.38 L211.39 1120.15 L216.04 1118.93 L220.69 1117.71 L225.34 1116.48 L229.99 1115.26 L234.64 1114.03 L239.29 1112.81 L243.94 1111.58 L248.58 1110.36 L253.23 1109.14 L257.88 1107.91 L262.53 1106.69 L267.18 1105.46 L271.83 1104.24 L276.48 1103.01 L281.13 1101.79 L285.78 1100.57 L290.42 1099.34 L295.07 1098.12 L299.72 1096.89 L304.37 1095.67 L309.02 1094.44 L313.67 1093.22 L318.32 1092.00 L322.97 1090.77 L327.62 1089.55 L332.26 1088.32 L336.91 1087.10 L341.56 1085.87 L346.21 1084.65 L350.86 1083.43 L355.51 1082.20 L360.16 1080.98 L364.81 1079.75 L369.46 1078.53 L374.10 1077.30 L378.75 1076.08 L383.40 1074.86 L388.05 1073.63 L392.70 1072.41 L397.35 1071.18 L402.00 1069.96 L406.65 1068.73 L411.30 1067.51 L415.94 1066.29 L420.59 1065.06 L425.24 1063.84 L429.89 1062.61 L434.54 1061.39 L439.19 1060.16 L443.84 1058.94 L448.49 1057.72 L453.14 1056.49 L457.78 1055.27 L462.43 1054.04 L467.08 1052.82 L471.73 1051.60 L476.38 1050.37 L481.03 1049.15 L485.68 1047.92 L490.33 1046.70 L494.98 1045.48 L499.62 1044.25 L504.27 1043.03 L508.92 1041.80 L513.57 1040.58 L518.22 1039.35 L522.87 1038.13 L527.52 1036.91 L532.17 1035.68 L536.82 1034.46 L541.46 1033.23 L546.11 1032.01 L550.76 1030.79 L555.41 1029.56 L560.06 1028.34 L564.71 1027.12 L569.36 1025.89 L574.01 1024.67 L578.66 1023.44 L583.30 1022.22 L587.95 1021.00 L592.60 1019.77 L597.25 1018.55 L601.90 1017.32 L606.55 1016.10 L611.20 1014.88 L615.85 1013.65 L620.50 1012.43 L625.14 1011.21 L629.79 1009.98 L634.44 1008.76 L639.09 1007.54 L643.74 1006.31 L648.39 1005.09 L653.04 1003.87 L657.69 1002.64 L662.34 1001.42 L666.98 1000.20 L671.63 998.97 L676.28 997.75 L680.93 996.53 L685.58 995.30 L690.23 994.08 L694.88 992.86 L699.53 991.64 L704.18 990.41 L708.82 989.19 L713.47 987.97 L718.12 986.74 L722.77 985.52 L727.42 984.30 L732.07 983.08 L736.72 981.86 L741.37 980.63 L746.02 979.41 L750.66 978.19 L755.31 976.97 L759.96 975.75 L764.61 974.52 L769.26 973.30 L773.91 972.08 L778.56 970.86 L783.21 969.64 L787.86 968.42 L792.50 967.20 L797.15 965.97 L801.80 964.75 L806.45 963.53 L811.10 962.31 L815.75 961.09 L820.40 959.87 L825.05 958.65 L829.70 957.43 L834.34 956.21 L838.99 954.99 L843.64 953.77 L848.29 952.56 L852.94 951.34 L857.59 950.12 L862.24 948.90 L866.89 947.68 L871.54 946.46 L876.18 945.25 L880.83 944.03 L885.48 942.81 L890.13 941.59 L894.78 940.38 L899.43 939.16 L904.08 937.94 L908.73 936.73 L913.38 935.51 L918.02 934.30 L922.67 933.08 L927.32 931.87 L931.97 930.66 L936.62 929.44 L941.27 928.23 L945.92 927.02 L950.57 925.81 L955.22 924.59 L959.86 923.38 L964.51 922.17 L969.16 920.96 L973.81 919.75 L978.46 918.54 L983.11 917.34 L987.76 916.13 L992.41 914.92 L997.06 913.71 L1001.70 912.51 L1006.35 911.30 L1011.00 910.10 L1015.65 908.90 L1020.30 907.69 L1024.95 906.49 L1029.60 905.29 L1034.25 904.09 L1038.90 902.89 L1043.54 901.69 L1048.19 900.50 L1052.84 899.30 L1057.49 898.10 L1062.14 896.91 L1066.79 895.72 L1071.44 894.53 L1076.09 893.34 L1080.74 892.15 L1085.38 890.96 L1090.03 889.77 L1094.68 888.59 L1099.33 887.40 L1103.98 886.22 L1108.63 885.04 L1113.28 883.86 L1117.93 882.69 L1122.58 881.51 L1127.22 880.34 L1131.87 879.17 L1136.52 878.00 L1141.17 876.83 L1145.82 875.67 L1150.47 874.50 L1155.12 873.34 L1159.77 872.18 L1164.42 871.03 L1169.06 869.88 L1173.71 868.73 L1178.36 867.58 L1183.01 866.43 L1187.66 865.29 L1192.31 864.15 L1196.96 863.02 L1201.61 861.89 L1206.26 860.76 L1210.90 859.63 L1215.55 858.51 L1220.20 857.40 L1224.85 856.28 L1229.50 855.17 L1234.15 854.07 L1238.80 852.97 L1243.45 851.87 L1248.10 850.78 L1252.74 849.70 L1257.39 848.62 L1262.04 847.54 L1266.69 846.47 L1271.34 845.41 L1275.99 844.35 L1280.64 843.30 L1285.29 842.25 L1289.94 841.21 L1294.58 840.18 L1299.23 839.15 L1303.88 838.14 L1308.53 837.13 L1313.18 836.12 L1317.83 835.13 L1322.48 834.15 L1327.13 833.17 L1331.78 832.20 L1336.42 831.24 L1341.07 830.29 L1345.72 829.36 L1350.37 828.43 L1355.02 827.51 L1359.67 826.61 L1364.32 825.71 L1368.97 824.83 L1373.62 823.96 L1378.26 823.10 L1382.91 822.26 L1387.56 821.43 L1392.21 820.62 L1396.86 819.82 L1401.51 819.03 L1406.16 818.26 L1410.81 817.51 L1415.46 816.78 L1420.10 816.06 L1424.75 815.36 L1429.40 814.68 L1434.05 814.02 L1438.70 813.38 L1443.35 812.76 L1448.00 812.16 L1452.65 811.59 L1457.30 811.04 L1461.94 810.51 L1466.59 810.00 L1471.24 809.53 L1475.89 809.08 L1480.54 808.65 L1485.19 808.26 L1489.84 807.89 L1494.49 807.55 L1499.14 807.25 L1503.78 806.98 L1508.43 806.74 L1513.08 806.54 L1517.73 806.37 L1522.38 806.24 L1527.03 806.14 L1531.68 806.09 L1536.33 806.08 L1540.98 806.10 L1545.62 806.18 L1550.27 806.29 L1554.92 806.46 L1559.57 806.67 L1564.22 806.93 L1568.87 807.24 L1573.52 807.60 L1578.17 808.01 L1582.82 808.49 L1587.46 809.02 L1592.11 809.60 L1596.76 810.25 L1601.41 810.97 L1606.06 811.74 L1610.71 812.59 L1615.36 813.50 L1620.01 814.48 L1624.66 815.54 L1629.30 816.67 L1633.95 817.88 L1638.60 819.16 L1643.25 820.53 L1647.90 821.98 L1652.55 823.52 L1657.20 825.15 L1661.85 826.87 L1666.50 828.68 L1671.14 830.59 L1675.79 832.60 L1680.44 834.71 L1685.09 836.92 L1689.74 839.25 L1694.39 841.68 L1699.04 844.22 L1703.69 846.88 L1708.34 849.66 L1712.98 852.56 L1717.63 855.59 L1722.28 858.74 L1726.93 862.02 L1731.58 865.44 L1736.23 868.99 L1740.88 872.69 L1745.53 876.53 L1750.18 880.51 L1754.82 884.64 L1759.47 888.93 L1764.12 893.38 L1768.77 897.98 L1773.42 902.75 L1778.07 907.69 L1782.72 912.79 L1787.37 918.07 L1792.02 923.53 L1796.66 929.17 L1801.31 934.99 L1805.96 941.00 L1810.61 947.20 L1815.26 953.59 L1819.91 960.18 L1824.56 966.98 L1829.21 973.97 L1833.86 981.18 L1838.50 988.60 L1843.15 996.23 L1847.80 1004.08 L1852.45 1012.15 L1857.10 1020.45 L1861.75 1028.97 L1866.40 1037.73 L1871.05 1046.72 L1875.70 1055.95 L1880.34 1065.42 L1884.99 1075.13 L1889.64 1085.09 L1894.29 1095.30 L1898.94 1105.76 L1903.59 1116.48 L1908.24 1127.46 L1908.25 1127.50" stroke="#77AC30"/>
<path d="M183.50 1127.50 L188.15 1125.06 L192.80 1122.62 L197.45 1120.18 L202.10 1117.73 L206.74 1115.29 L211.39 1112.85 L216.04 1110.41 L220.69 1107.97 L225.34 1105.53 L229.99 1103.08 L234.64 1100.64 L239.29 1098.20 L243.94 1095.76 L248.58 1093.32 L253.23 1090.88 L257.88 1088.43 L262.53 1085.99 L267.18 1083.55 L271.83 1081.11 L276.48 1078.67 L281.13 1076.23 L285.78 1073.78 L290.42 1071.34 L295.07 1068.90 L299.72 1066.46 L304.37 1064.02 L309.02 1061.58 L313.67 1059.13 L318.32 1056.69 L322.97 1054.25 L327.62 1051.81 L332.26 1049.37 L336.91 1046.93 L341.56 1044.49 L346.21 1042.04 L350.86 1039.60 L355.51 1037.16 L360.16 1034.72 L364.81 1032.28 L369.46 1029.84 L374.10 1027.39 L378.75 1024.95 L383.40 1022.51 L388.05 1020.07 L392.70 1017.63 L397.35 1015.19 L402.00 1012.74 L406.65 1010.30 L411.30 1007.86 L415.94 1005.42 L420.59 1002.98 L425.24 1000.54 L429.89 998.10 L434.54 995.65 L439.19 993.21 L443.84 990.77 L448.49 988.33 L453.14 985.89 L457.78 983.45 L462.43 981.01 L467.08 978.56 L471.73 976.12 L476.38 973.68 L481.03 971.24 L485.68 968.80 L490.33 966.36 L494.98 963.92 L499.62 961.47 L504.27 959.03 L508.92 956.59 L513.57 954.15 L518.22 951.71 L522.87 949.27 L527.52 946.83 L532.17 944.38 L536.82 941.94 L541.46 939.50 L546.11 937.06 L550.76 934.62 L555.41 932.18 L560.06 929.74 L564.71 927.30 L569.36 924.86 L574.01 922.41 L578.66 919.97 L583.30 917.53 L587.95 915.09 L592.60 912.65 L597.25 910.21 L601.90 907.77 L606.55 905.33 L611.20 902.89 L615.85 900.45 L620.50 898.01 L625.14 895.56 L629.79 893.12 L634.44 890.68 L639.09 888.24 L643.74 885.80 L648.39 883.36 L653.04 880.92 L657.69 878.48 L662.34 876.04 L666.98 873.60 L671.63 871.16 L676.28 868.72 L680.93 866.28 L685.58 863.84 L690.23 861.40 L694.88 858.96 L699.53 856.52 L704.18 854.08 L708.82 851.64 L713.47 849.20 L718.12 846.76 L722.77 844.32 L727.42 841.88 L732.07 839.44 L736.72 837.00 L741.37 834.56 L746.02 832.13 L750.66 829.69 L755.31 827.25 L759.96 824.81 L764.61 822.37 L769.26 819.93 L773.91 817.49 L778.56 815.06 L783.21 812.62 L787.86 810.18 L792.50 807.74 L797.15 805.31 L801.80 802.87 L806.45 800.43 L811.10 797.99 L815.75 795.56 L820.40 793.12 L825.05 790.68 L829.70 788.25 L834.34 785.81 L838.99 783.38 L843.64 780.94 L848.29 778.51 L852.94 776.07 L857.59 773.64 L862.24 771.20 L866.89 768.77 L871.54 766.34 L876.18 763.90 L880.83 761.47 L885.48 759.04 L890.13 756.61 L894.78 754.17 L899.43 751.74 L904.08 749.31 L908.73 746.88 L913.38 744.45 L918.02 742.02 L922.67 739.59 L927.32 737.16 L931.97 734.73 L936.62 732.31 L941.27 729.88 L945.92 727.45 L950.57 725.03 L955.22 722.60 L959.86 720.18 L964.51 717.75 L969.16 715.33 L973.81 712.91 L978.46 710.49 L983.11 708.07 L987.76 705.65 L992.41 703.23 L997.06 700.81 L1001.70 698.39 L1006.35 695.98 L1011.00 693.56 L1015.65 691.15 L1020.30 688.73 L1024.95 686.32 L1029.60 683.91 L1034.25 681.50 L1038.90 679.09 L1043.54 676.69 L1048.19 674.28 L1052.84 671.88 L1057.49 669.48 L1062.14 667.07 L1066.79 664.68 L1071.44 662.28 L1076.09 659.88 L1080.74 657.49 L1085.38 655.10 L1090.03 652.71 L1094.68 650.32 L1099.33 647.93 L1103.98 645.55 L1108.63 643.17 L1113.28 640.79 L1117.93 638.41 L1122.58 636.04 L1127.22 633.66 L1131.87 631.30 L1136.52 628.93 L1141.17 626.57 L1145.82 624.21 L1150.47 621.85 L1155.12 619.50 L1159.77 617.15 L1164.42 614.80 L1169.06 612.46 L1173.71 610.12 L1178.36 607.79 L1183.01 605.45 L1187.66 603.13 L1192.31 600.81 L1196.96 598.49 L1201.61 596.18 L1206.26 593.87 L1210.90 591.57 L1215.55 589.27 L1220.20 586.98 L1224.85 584.70 L1229.50 582.42 L1234.15 580.15 L1238.80 577.88 L1243.45 575.62 L1248.10 573.37 L1252.74 571.13 L1257.39 568.89 L1262.04 566.66 L1266.69 564.44 L1271.34 562.23 L1275.99 560.02 L1280.64 557.83 L1285.29 555.64 L1289.94 553.47 L1294.58 551.30 L1299.23 549.15 L1303.88 547.00 L1308.53 544.87 L1313.18 542.75 L1317.83 540.64 L1322.48 538.55 L1327.13 536.46 L1331.78 534.40 L1336.42 532.34 L1341.07 530.30 L1345.72 528.28 L1350.37 526.27 L1355.02 524.28 L1359.67 522.30 L1364.32 520.34 L1368.97 518.40 L1373.62 516.48 L1378.26 514.58 L1382.91 512.70 L1387.56 510.84 L1392.21 509.00 L1396.86 507.18 L1401.51 505.39 L1406.16 503.62 L1410.81 501.87 L1415.46 500.15 L1420.10 498.46 L1424.75 496.80 L1429.40 495.16 L1434.05 493.55 L1438.70 491.98 L1443.35 490.43 L1448.00 488.92 L1452.65 487.45 L1457.30 486.00 L1461.94 484.60 L1466.59 483.23 L1471.24 481.90 L1475.89 480.60 L1480.54 479.36 L1485.19 478.15 L1489.84 476.99 L1494.49 475.87 L1499.14 474.80 L1503.78 473.78 L1508.43 472.80 L1513.08 471.88 L1517.73 471.02 L1522.38 470.20 L1527.03 469.45 L1531.68 468.75 L1536.33 468.11 L1540.98 467.54 L1545.62 467.03 L1550.27 466.58 L1554.92 466.21 L1559.57 465.90 L1564.22 465.66 L1568.87 465.50 L1573.52 465.42 L1578.17 465.41 L1582.82 465.48 L1587.46 465.64 L1592.11 465.88 L1596.76 466.21 L1601.41 466.64 L1606.06 467.15 L1610.71 467.76 L1615.36 468.46 L1620.01 469.27 L1624.66 470.17 L1629.30 471.19 L1633.95 472.31 L1638.60 473.54 L1643.25 474.89 L1647.90 476.35 L1652.55 477.93 L1657.20 479.63 L1661.85 481.46 L1666.50 483.41 L1671.14 485.50 L1675.79 487.72 L1680.44 490.07 L1685.09 492.57 L1689.74 495.20 L1694.39 497.98 L1699.04 500.91 L1703.69 503.99 L1708.34 507.22 L1712.98 510.61 L1717.63 514.16 L1722.28 517.87 L1726.93 521.75 L1731.58 525.80 L1736.23 530.02 L1740.88 534.41 L1745.53 538.98 L1750.18 543.73 L1754.82 548.67 L1759.47 553.79 L1764.12 559.09 L1768.77 564.59 L1773.42 570.29 L1778.07 576.18 L1782.72 582.27 L1787.37 588.56 L1792.02 595.06 L1796.66 601.76 L1801.31 608.67 L1805.96 615.80 L1810.61 623.14 L1815.26 630.70 L1819.91 638.47 L1824.56 646.47 L1829.21 654.69 L1833.86 663.13 L1838.50 671.81 L1843.15 680.71 L1847.80 689.84 L1852.45 699.21 L1857.10 708.81 L1861.75 718.65 L1866.40 728.73 L1871.05 739.05 L1875.70 749.61 L1880.34 760.41 L1884.99 771.46 L1889.64 782.75 L1894.29 794.29 L1898.94 806.08 L1903.59 818.12 L1908.24 830.40 L1912.89 842.94 L1917.54 855.74 L1922.18 868.78 L1926.83 882.08 L1931.48 895.64 L1936.13 909.45 L1940.78 923.52 L1945.43 937.85 L1950.08 952.43 L1954.73 967.28 L1959.38 982.38 L1964.02 997.74 L1968.67 1013.36 L1973.32 1029.24 L1977.97 1045.39 L1982.62 1061.79 L1987.27 1078.45 L1991.92 1095.38 L1996.57 1112.56 L2000.55 1127.50" stroke="#4DBEEE"/>
</g>
<rect x="1716.60" y="332.60" width="105.40" height="65.70" rx="3.0" ry="3.0" fill="#fafaff" stroke="#c4c4c4" stroke-width="1.50"/>
<text class="dt" transform="translate(1725.80 360.40) scale(1 1.0450)"><tspan x="0">X </tspan><tspan class="dv" x="18.50">329.167</tspan></text>
<text class="dt" transform="translate(1725.80 383.70) scale(1 1.0450)"><tspan x="0">Y </tspan><tspan class="dv" x="18.50">2655.14</tspan></text>
<circle cx="1714.00" cy="400.30" r="4.75" fill="#ffffe6"/>
<circle cx="1714.00" cy="400.30" r="3.85" fill="#262626"/>
<rect x="1580.50" y="466.70" width="105.85" height="66.35" rx="3.0" ry="3.0" fill="#fafaff" stroke="#c4c4c4" stroke-width="1.50"/>
<text class="dt" transform="translate(1589.90 495.40) scale(1 1.0450)"><tspan x="0">X </tspan><tspan class="dv" x="18.30">300</tspan></text>
<text class="dt" transform="translate(1589.90 518.70) scale(1 1.0450)"><tspan x="0">Y </tspan><tspan class="dv" x="18.30">2420.32</tspan></text>
<circle cx="1578.40" cy="464.80" r="4.75" fill="#ffffe6"/>
<circle cx="1578.40" cy="464.80" r="3.85" fill="#262626"/>
</svg></body></html>
